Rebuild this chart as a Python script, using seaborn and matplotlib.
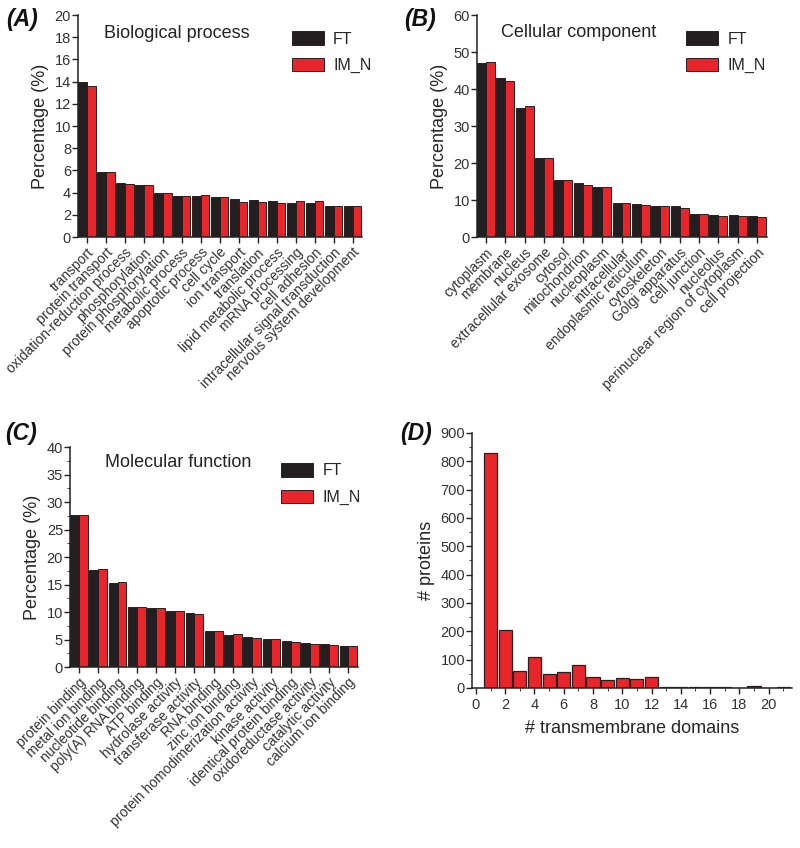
import pandas as pd
import seaborn as sns
import matplotlib.pyplot as plt
from matplotlib.ticker import MultipleLocator

# ---- data ----
bp_terms = ['transport', 'protein transport', 'oxidation-reduction process', 'phosphorylation',
            'protein phosphorylation', 'metabolic process', 'apoptotic process', 'cell cycle',
            'ion transport', 'translation', 'lipid metabolic process', 'mRNA processing',
            'cell adhesion', 'intracellular signal transduction', 'nervous system development']
bp_ft = [14.0, 5.9, 4.9, 4.7, 4.0, 3.7, 3.7, 3.6, 3.45, 3.3, 3.25, 3.1, 3.1, 2.8, 2.75]
bp_imn = [13.6, 5.9, 4.8, 4.7, 4.0, 3.7, 3.8, 3.6, 3.15, 3.15, 3.1, 3.2, 3.2, 2.8, 2.75]

cc_terms = ['cytoplasm', 'membrane', 'nucleus', 'extracellular exosome', 'cytosol',
            'mitochondrion', 'nucleoplasm', 'intracellular', 'endoplasmic reticulum',
            'cytoskeleton', 'Golgi apparatus', 'cell junction', 'nucleolus',
            'perinuclear region of cytoplasm', 'cell projection']
cc_ft = [47.0, 43.0, 35.0, 21.4, 15.4, 14.5, 13.4, 9.3, 8.8, 8.4, 8.3, 6.2, 6.0, 5.9, 5.7]
cc_imn = [47.3, 42.1, 35.3, 21.4, 15.3, 14.1, 13.6, 9.2, 8.6, 8.5, 7.9, 6.1, 5.8, 5.6, 5.5]

mf_terms = ['protein binding', 'metal ion binding', 'nucleotide binding', 'poly(A) RNA binding',
            'ATP binding', 'hydrolase activity', 'transferase activity', 'RNA binding',
            'zinc ion binding', 'protein homodimerization activity', 'kinase activity',
            'identical protein binding', 'oxidoreductase activity', 'catalytic activity',
            'calcium ion binding']
mf_ft = [27.6, 17.6, 15.2, 10.9, 10.8, 10.1, 9.8, 6.5, 5.9, 5.4, 5.1, 4.7, 4.3, 4.1, 3.8]
mf_imn = [27.6, 17.9, 15.4, 11.0, 10.8, 10.1, 9.6, 6.6, 6.0, 5.3, 5.1, 4.6, 4.1, 4.0, 3.8]

tm_domains = list(range(1, 22))
tm_counts = [830, 205, 60, 110, 48, 58, 80, 38, 28, 35, 32, 38, 5, 4, 3, 2, 4, 1, 8, 1, 2]

colors = {'FT': '#231f20', 'IM_N': '#e8252b'}
edge = '#2a1f1f'

sns.set_style('ticks')
plt.rcParams['font.family'] = ['Liberation Sans', 'DejaVu Sans']
plt.rcParams['axes.edgecolor'] = '#222222'
plt.rcParams['xtick.color'] = '#222222'
plt.rcParams['ytick.color'] = '#222222'
plt.rcParams['xtick.labelcolor'] = '#333333'
plt.rcParams['ytick.labelcolor'] = '#333333'

fig = plt.figure(figsize=(8, 8.48), dpi=100)


def go_panel(rect, terms, ft, imn, ymax, ystep, yminor, title, title_xy, leg_xy):
    ax = fig.add_axes(rect)
    df = pd.DataFrame({'term': terms * 2,
                       'value': ft + imn,
                       'sample': ['FT'] * len(terms) + ['IM_N'] * len(terms)})
    sns.barplot(data=df, x='term', y='value', hue='sample', palette=colors, saturation=1,
                width=0.92, edgecolor=edge, linewidth=0.7, ax=ax, legend=True)
    ax.set_xlim(-0.47, len(terms) - 0.5)
    ax.set_ylim(0, ymax)
    ax.yaxis.set_major_locator(MultipleLocator(ystep))
    if yminor:
        ax.yaxis.set_minor_locator(MultipleLocator(yminor))
    ax.set_xlabel('')
    ax.set_ylabel('Percentage (%)', fontsize=13)
    ax.tick_params(axis='y', labelsize=10.5, length=4, width=1, pad=1)
    ax.tick_params(axis='y', which='minor', length=2.5)
    ax.tick_params(axis='x', labelsize=10, length=4, width=1, pad=2)
    ax.set_xticks(range(len(terms)))
    ax.set_xticklabels(terms, rotation=45, ha='right', rotation_mode='anchor')
    sns.despine(ax=ax)
    ax.spines['left'].set_linewidth(1.1)
    ax.spines['bottom'].set_linewidth(1.1)
    ax.text(title_xy[0], title_xy[1], title, transform=ax.transAxes, fontsize=13,
            va='center', ha='left', color='#222222')
    ax.legend(loc='upper left', bbox_to_anchor=leg_xy, frameon=False, fontsize=11.5,
              handlelength=2.0, handleheight=0.9, labelspacing=0.7, handletextpad=0.6,
              borderaxespad=0, title=None)
    return ax


go_panel([0.0975, 0.7205, 0.355, 0.2618], bp_terms, bp_ft, bp_imn, 20, 2, None,
         'Biological process', (0.09, 0.915), (0.73, 0.955))
go_panel([0.596, 0.7205, 0.3625, 0.2618], cc_terms, cc_ft, cc_imn, 60, 10, None,
         'Cellular component', (0.085, 0.92), (0.70, 0.955))
go_panel([0.0875, 0.2134, 0.36, 0.2594], mf_terms, mf_ft, mf_imn, 40, 5, 2.5,
         'Molecular function', (0.12, 0.93), (0.71, 0.955))

# panel D: transmembrane domain histogram
axd = fig.add_axes([0.59, 0.1887, 0.40, 0.3007])
sns.barplot(x=tm_domains, y=tm_counts, native_scale=True, color='#e8252b', saturation=1,
            width=0.9, edgecolor=edge, linewidth=0.9, ax=axd)
axd.set_xlim(-0.27, 21.6)
axd.set_ylim(0, 900)
axd.xaxis.set_major_locator(MultipleLocator(2))
axd.xaxis.set_minor_locator(MultipleLocator(1))
axd.yaxis.set_major_locator(MultipleLocator(100))
axd.yaxis.set_minor_locator(MultipleLocator(50))
axd.tick_params(axis='y', labelsize=10.5, length=4, width=1, pad=1)
axd.tick_params(axis='x', labelsize=10.5, length=4, width=1, pad=3)
axd.tick_params(axis='both', which='minor', length=2.5)
axd.set_xlabel('# transmembrane domains', fontsize=13, labelpad=6)
axd.set_ylabel('# proteins', fontsize=13)
sns.despine(ax=axd)
axd.spines['left'].set_linewidth(1.1)
axd.spines['bottom'].set_linewidth(1.1)

for lbl, x, y in [('(A)', 0.008, 0.977), ('(B)', 0.505, 0.977),
                  ('(C)', 0.006, 0.489), ('(D)', 0.50, 0.489)]:
    fig.text(x, y, lbl, fontsize=16.5, fontweight='bold', fontstyle='italic',
             va='center', ha='left', color='#111111')

fig.savefig('out.png', dpi=100)
